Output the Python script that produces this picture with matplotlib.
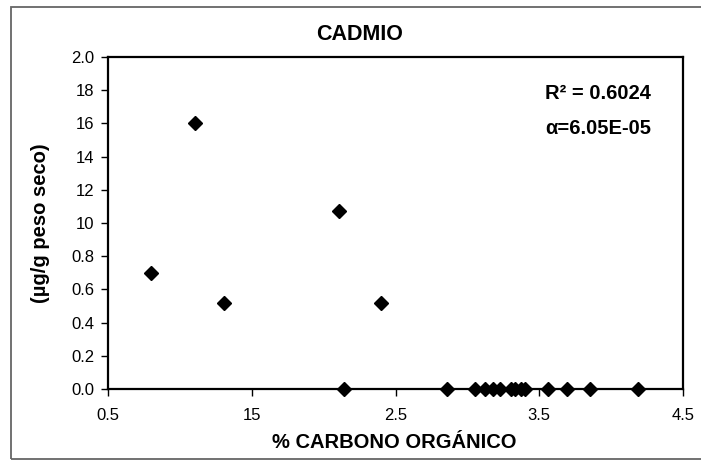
import matplotlib.pyplot as plt
from matplotlib.patches import Rectangle

plt.rcParams['font.family'] = ['Liberation Sans', 'DejaVu Sans']

# % carbono orgánico vs cadmio (ug/g peso seco)
carbono = [0.80, 1.105, 1.31, 2.11, 2.40,
           2.14, 2.86, 3.05, 3.12, 3.18, 3.23, 3.30, 3.33, 3.37, 3.40,
           3.56, 3.69, 3.85, 4.19]
cadmio = [0.70, 1.60, 0.52, 1.07, 0.52,
          0.0, 0.0, 0.0, 0.0, 0.0, 0.0, 0.0, 0.0, 0.0, 0.0,
          0.0, 0.0, 0.0, 0.0]

xticks = [0.5, 1.5, 2.5, 3.5, 4.5]
xtick_labels = ["0.5", "15", "2.5", "3.5", "4.5"]
yticks = [0.0, 0.2, 0.4, 0.6, 0.8, 1.0, 1.2, 1.4, 1.6, 1.8, 2.0]
ytick_labels = ["0.0", "0.2", "0.4", "0.6", "0.8", "10", "12", "14", "16", "18", "2.0"]

fig = plt.figure(figsize=(7.01, 4.67), dpi=100)
ax = fig.add_axes([108 / 701, 78 / 467, 575 / 701, 332 / 467])

# marco exterior del grafico
fig.patches.append(Rectangle((11 / 701, 8 / 467), 700 / 701, 452 / 467,
                             transform=fig.transFigure, fill=False,
                             edgecolor='#666666', linewidth=1.3))

ax.plot(carbono, cadmio, linestyle='none', marker='D', markersize=6.8,
        color='black', clip_on=False, zorder=3)

ax.set_xlim(0.5, 4.5)
ax.set_ylim(0.0, 2.0)
ax.set_xticks(xticks)
ax.set_xticklabels(xtick_labels)
ax.set_yticks(yticks)
ax.set_yticklabels(ytick_labels)
ax.tick_params(direction='out', length=5, width=1, labelsize=12,
               colors='black')
ax.tick_params(axis='x', pad=9)
ax.tick_params(axis='y', pad=5)

for s in ax.spines.values():
    s.set_linewidth(1.6)
    s.set_color('black')

ax.set_xlabel("% CARBONO ORGÁNICO", fontsize=14.5, fontweight='bold')
ax.xaxis.set_label_coords((394 - 108) / 575, (389 - 443) / 332)
ax.xaxis.label.set_va('center')
ax.set_ylabel("(µg/g peso seco)", fontsize=14.5, fontweight='bold')
ax.yaxis.set_label_coords((41 - 108) / 575, 0.5)
ax.yaxis.label.set_va('center')

fig.text(360 / 701, 1 - 35 / 467, "CADMIO", ha='center', va='center',
         fontsize=15.5, fontweight='bold')

ax.text(0.76, 0.889, "R² = 0.6024", transform=ax.transAxes, ha='left',
        va='center', fontsize=14.5, fontweight='bold')
ax.text(0.76, 0.786, "α=6.05E-05", transform=ax.transAxes, ha='left',
        va='center', fontsize=14.5, fontweight='bold')

fig.savefig("out.png", dpi=100)
